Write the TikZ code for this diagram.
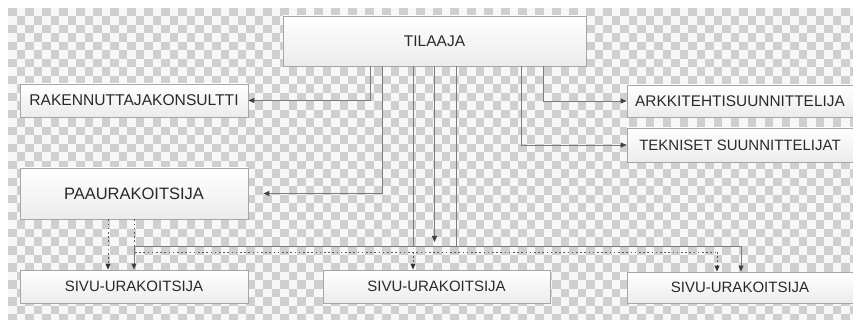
\documentclass[tikz,border=0pt]{standalone}
\usepackage{fontspec}
\setmainfont{Liberation Sans}
\usetikzlibrary{arrows.meta}

\definecolor{checkgray}{HTML}{CFCFCF}
\definecolor{checkwhite}{HTML}{F7F7F7}
\definecolor{linegray}{HTML}{7C7C7C}
\definecolor{textgray}{HTML}{2A2A2A}

\tikzset{
  orgbox/.style={draw=gray!70, top color=white, bottom color=gray!15,
    text=textgray, inner sep=0pt, line width=0.8pt,
    font=\fontsize{15}{18}\selectfont},
  link/.style={draw=linegray, line width=0.9pt},
  linkarrow/.style={link, -{Triangle[length=6pt,width=5pt,color=black!75]}},
  dotlink/.style={draw=black!65, line width=0.9pt, dash pattern=on 1.6pt off 2.6pt},
  dotarrow/.style={dotlink, -{Triangle[length=6pt,width=5pt,color=black!80]}}
}

\begin{document}
\begin{tikzpicture}[x=1pt,y=-1pt]

  \useasboundingbox (0,0) rectangle (853,320);
  \fill[white] (0,0) rectangle (853,320);

  % Transparent background squares, 8.5 units each
  \begin{scope}
    \clip (8,8) rectangle (853,320);
    \fill[checkwhite] (8,8) rectangle (853,320);
    \foreach \j [evaluate=\j as \off using {int(mod(\j,2))}] in {0,...,36}{
      \foreach \i in {0,...,49}{
        \fill[checkgray] ({8+(2*\i+\off)*8.5}, {8+\j*8.5}) rectangle ++(8.5,8.5);
      }
    }
  \end{scope}

  % Boxes
  \node[orgbox, minimum width=303, minimum height=50, font=\fontsize{15.5}{18}\selectfont]
    (tilaaja) at (434.5, 41) {TILAAJA};
  \node[orgbox, minimum width=228, minimum height=33, font=\fontsize{15.6}{18}\selectfont]
    (rakennuttaja) at (134, 100.5) {RAKENNUTTAJAKONSULTTI};
  \node[orgbox, minimum width=228, minimum height=51, font=\fontsize{16.5}{19}\selectfont]
    (paaurakoitsija) at (134, 193.5) {PAAURAKOITSIJA};
  \node[orgbox, minimum width=226, minimum height=32, font=\fontsize{15.4}{18}\selectfont]
    (arkkitehti) at (740, 101) {ARKKITEHTISUUNNITTELIJA};
  \node[orgbox, minimum width=226, minimum height=34] (tekniset) at (740, 145)
    {TEKNISET SUUNNITTELIJAT};

  \node[orgbox, minimum width=228, minimum height=33] (sivuA) at (134, 286.5) {SIVU-URAKOITSIJA};
  \node[orgbox, minimum width=227, minimum height=33] (sivuB) at (436.5, 286.5) {SIVU-URAKOITSIJA};
  \node[orgbox, minimum width=226, minimum height=31] (sivuC) at (740, 287.5) {SIVU-URAKOITSIJA};

  % Bus lines above the lower row
  \coordinate (busL) at (134, 246);
  \coordinate (busR) at (741, 246);
  \coordinate (dotbus) at (134, 252);

  % Solid links from TILAAJA
  \draw[linkarrow] ([xshift=-64.5]tilaaja.south) |- (rakennuttaja.east);
  \draw[linkarrow, shorten >=15pt] ([xshift=-52.5]tilaaja.south) |- (paaurakoitsija.east);
  \draw[link] ([xshift=-21.5]tilaaja.south) -- ([xshift=-21.5]tilaaja.south |- busL);
  \draw[linkarrow] (tilaaja.south) -- ([yshift=4]tilaaja.south |- busL);
  \draw[linkarrow] ([xshift=21.5]tilaaja.south) |- (busL) -- (sivuA.north);
  \draw[linkarrow] ([xshift=21.5]tilaaja.south |- busL) -- (busR) -- ([xshift=1]sivuC.north);
  \draw[linkarrow] ([xshift=86.5]tilaaja.south) |- (tekniset.west);
  \draw[linkarrow] ([xshift=108.5]tilaaja.south) |- (arkkitehti.west);

  % Dotted links from PAAURAKOITSIJA
  \draw[dotarrow] ([xshift=-26]paaurakoitsija.south) -- ([xshift=-26]sivuA.north);
  \draw[dotlink] (paaurakoitsija.south) -- (dotbus) -- ([xshift=-23]sivuC.north |- dotbus);
  \draw[dotarrow] ([xshift=-23]sivuC.north |- dotbus) -- ([xshift=-23]sivuC.north);
  \draw[dotarrow] ([xshift=-23.5]sivuB.north |- dotbus) -- ([xshift=-23.5]sivuB.north);

\end{tikzpicture}
\end{document}
